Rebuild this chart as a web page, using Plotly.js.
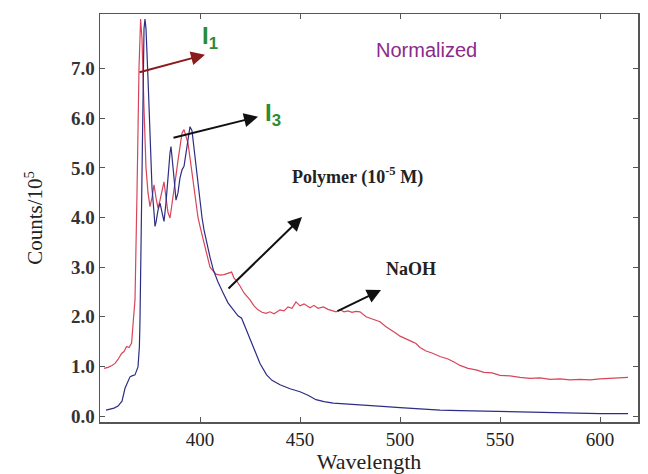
<!DOCTYPE html>
<html>
<head>
<meta charset="utf-8">
<script src="https://cdn.plot.ly/plotly-3.0.1.min.js"></script>
<style>html,body{margin:0;padding:0;background:#fff;}#chart{width:648px;height:474px;}</style>
</head>
<body>
<div id="chart"></div>
<script>
// Polymer spectrum (red)
const redWavelength = [352,354,356,357.5,359,360.8,362,363.3,364.5,365.8,366.7,367.5,368.5,369.5,370.3,371,372,373,374,375,376,377,378,379,380,381,382,383,384,385,386,387,388,389,390,391,392,393,394,395,396,397,398,399,400,402,405,408,410,412,414,415.8,417,418,420,422,425,427,429,431,433,435,437,440,442,444,446,448,450,452,455,457,459,461.7,464,466,468,470,472,474,476,478,480,483,486,490,493,496,498,500,503,506,508,510,513,516,520,524,527,530,534,538,542,546,550,555,560,565,570,575,580,585,590,595,600,605,610,614];
const redCounts = [0.96,0.98,1.02,1.06,1.14,1.26,1.30,1.40,1.38,1.47,1.94,2.34,4.5,7.0,8.0,7.6,6.2,5.0,4.5,4.22,4.4,4.66,4.4,4.19,4.35,4.55,4.72,4.4,4.1,3.99,4.25,4.55,4.85,5.15,5.45,5.7,5.77,5.65,5.5,5.2,4.9,4.6,4.3,4.0,3.82,3.5,3.0,2.86,2.84,2.85,2.88,2.90,2.78,2.74,2.62,2.48,2.34,2.22,2.14,2.09,2.07,2.10,2.06,2.14,2.12,2.2,2.17,2.30,2.22,2.26,2.18,2.23,2.17,2.20,2.15,2.12,2.10,2.14,2.10,2.12,2.09,2.11,2.10,2.00,1.96,1.90,1.80,1.73,1.67,1.61,1.56,1.50,1.46,1.38,1.31,1.27,1.20,1.15,1.09,1.02,0.96,0.93,0.88,0.87,0.82,0.81,0.78,0.76,0.77,0.74,0.75,0.73,0.74,0.73,0.75,0.76,0.77,0.78,0.79,0.80,0.83];

// NaOH spectrum (blue)
const blueWavelength = [353,355,357,359,361,362.5,364,365,366,367.5,369,369.7,370,371,372,372.5,373,374,375,376,377,377.5,378,379,380,381,382,383,384,385,385.5,386,387,388,389,390,391,392,393,394,395,396,397,398,399,400,401,402,403,405,406.7,409,411.7,414,416.7,419,420.8,423.3,425,426.7,428,430,433.3,436,440,445,450,454,458,462,466.7,475,481,486.7,493,500,510,520,530,540,550,560,570,580,590,600,610,614];
const blueCounts = [0.12,0.14,0.16,0.2,0.3,0.56,0.70,0.79,0.81,0.83,0.99,1.4,1.94,5.0,7.8,8.0,7.8,6.8,5.5,4.6,4.1,3.82,3.9,4.15,4.29,4.1,3.92,4.3,4.9,5.3,5.43,5.25,4.8,4.35,4.5,4.8,4.96,5.03,5.3,5.6,5.83,5.75,5.4,5.1,4.7,4.3,4.0,3.75,3.55,3.2,2.94,2.7,2.47,2.28,2.14,2.02,1.97,1.73,1.55,1.40,1.25,1.06,0.83,0.72,0.63,0.55,0.49,0.42,0.33,0.29,0.26,0.24,0.23,0.22,0.19,0.17,0.14,0.12,0.11,0.10,0.09,0.08,0.07,0.06,0.06,0.05,0.05,0.05];

const xTicks = [400,450,500,550,600];
const yTicks = [0,1,2,3,4,5,6,7];

const serif = "Liberation Serif, Times New Roman, serif";
const sans = "Liberation Sans, Arial, sans-serif";

const traces = [
  {x: redWavelength, y: redCounts, type: 'scatter', mode: 'lines', line: {color: '#d9445a', width: 1.2}, name: 'Polymer'},
  {x: blueWavelength, y: blueCounts, type: 'scatter', mode: 'lines', line: {color: '#2d2d86', width: 1.2}, name: 'NaOH'}
];

function arrow(x, y, ax, ay, color) {
  return {x: x, y: y, ax: ax, ay: ay, xref: 'x', yref: 'y', axref: 'x', ayref: 'y', text: '', showarrow: true,
    arrowhead: 2, arrowsize: 1.4, arrowwidth: 2, arrowcolor: color};
}

const layout = {
  width: 648, height: 474,
  margin: {l: 100, r: 10, t: 14, b: 52},
  paper_bgcolor: '#fff', plot_bgcolor: '#fff',
  showlegend: false,
  xaxis: {
    range: [350, 619], tickvals: xTicks, ticktext: xTicks.map(String),
    showline: true, linecolor: '#555', linewidth: 1.5, mirror: 'ticks',
    ticks: 'inside', ticklen: 5, tickcolor: '#555', showgrid: false, zeroline: false,
    tickfont: {family: serif, size: 19, color: '#222'},
    title: {text: 'Wavelength', font: {family: serif, size: 22, color: '#222'}, standoff: 4}
  },
  yaxis: {
    range: [-0.12, 8.1], tickvals: yTicks, ticktext: yTicks.map(v => '<b>' + v.toFixed(1) + '</b>'),
    showline: true, linecolor: '#555', linewidth: 1.5, mirror: 'ticks',
    ticks: 'inside', ticklen: 5, tickcolor: '#555', showgrid: false, zeroline: false,
    tickfont: {family: serif, size: 19, color: '#333'},
    title: {text: 'Counts/10<sup>5</sup>', font: {family: serif, size: 21, color: '#222'}, standoff: 22}
  },
  annotations: [
    arrow(402.5, 7.28, 369, 6.92, '#8b1a1a'),
    arrow(429, 6.03, 386, 5.60, '#111'),
    arrow(451, 4.01, 413.5, 2.54, '#111'),
    arrow(490.5, 2.54, 468, 2.10, '#111'),
    {x: 405, y: 7.62, xref: 'x', yref: 'y', text: '<b>I<sub>1</sub></b>', showarrow: false, font: {family: sans, size: 24, color: '#2a8c34'}},
    {x: 436.5, y: 6.08, xref: 'x', yref: 'y', text: '<b>I<sub>3</sub></b>', showarrow: false, font: {family: sans, size: 24, color: '#2a8c34'}},
    {x: 513, y: 7.38, xref: 'x', yref: 'y', text: 'Normalized', showarrow: false, font: {family: sans, size: 20, color: '#8a2a8a'}},
    {x: 478.5, y: 4.84, xref: 'x', yref: 'y', text: '<b>Polymer (10<sup>-5</sup> M)</b>', showarrow: false, font: {family: serif, size: 18, color: '#222'}},
    {x: 505.5, y: 2.96, xref: 'x', yref: 'y', text: '<b>NaOH</b>', showarrow: false, font: {family: serif, size: 18, color: '#222'}}
  ]
};

Plotly.newPlot('chart', traces, layout, {displayModeBar: false, staticPlot: true});
</script>
</body>
</html>
